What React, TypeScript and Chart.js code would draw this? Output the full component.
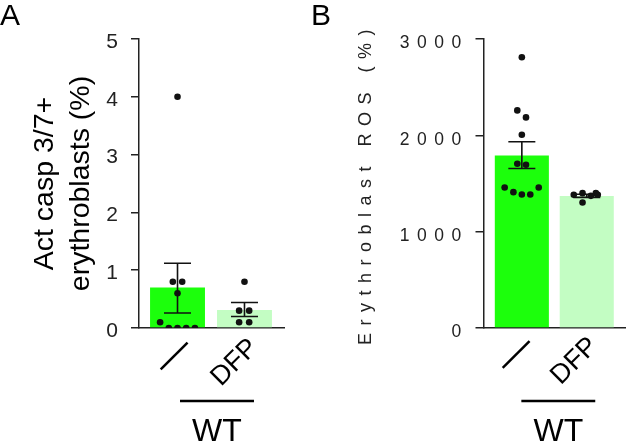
import React, { useEffect, useRef } from 'react';
import { Chart, registerables } from 'chart.js';

Chart.register(...registerables);

const FONT = '"Liberation Sans", Arial, Helvetica, sans-serif';
const AXIS = '#222';

// ---- shared categories ----
const categories = ['—', 'DFP'];
const groupLabel = 'WT';

// ---- Panel A: Act casp 3/7+ erythroblasts (%) ----
const casTitle = ['Act casp 3/7+', 'erythroblasts (%)'];
const casTicks = [0, 1, 2, 3, 4, 5];
const casMeans = [0.7, 0.31];
const casErrHigh = [1.12, 0.44];
const casErrLow = [0.26, 0.2];
const casCtrlValues = [4.0, 0.8, 0.8, 0.6, 0.1, 0, 0, 0, 0];
const casCtrlJitter = [0, -0.07, 0.07, 0, -0.26, -0.13, 0, 0.13, 0.26];
const casDfpValues = [0.8, 0.3, 0.3, 0.1, 0.1];
const casDfpJitter = [0, -0.08, 0.07, -0.08, 0.07];

// ---- Panel B: Erythroblast ROS (%) ----
const rosTitle = 'Erythroblast ROS (%)';
const rosTicks = [0, 1000, 2000, 3000];
const rosMeans = [1791, 1370];
const rosErrHigh = [1934, 1388];
const rosErrLow = [1656, 1356];
const rosCtrlValues = [2810, 2259, 2186, 2006, 1705, 1694, 1459, 1410, 1386, 1386, 1459];
const rosCtrlJitter = [0, -0.07, 0.064, 0, -0.07, 0.064, -0.265, -0.13, 0, 0.13, 0.26];
const rosDfpValues = [1383, 1400, 1303, 1372, 1400, 1383];
const rosDfpJitter = [-0.2, -0.065, -0.065, 0.064, 0.14, 0.17];

const barColors = ['#1cff0c', '#c3fdc3'];

function buildPoints(values: number[][], jitter: number[][]) {
  const pts: { x: number; y: number }[] = [];
  values.forEach((vals, i) =>
    vals.forEach((v, j) => pts.push({ x: i + jitter[i][j], y: v }))
  );
  return pts;
}

const errorBarPlugin = {
  id: 'errorBars',
  afterDatasetDraw(chart: any, args: any, o: any) {
    if (args.index !== 0) return;
    const { ctx, scales } = chart;
    const x = scales.x, y = scales.y;
    ctx.save();
    ctx.strokeStyle = '#111';
    ctx.lineWidth = 1.6;
    o.high.forEach((hi: number, i: number) => {
      const px = x.getPixelForValue(i);
      const top = y.getPixelForValue(hi);
      const bot = y.getPixelForValue(o.low[i]);
      ctx.beginPath();
      ctx.moveTo(px, top); ctx.lineTo(px, bot);
      ctx.moveTo(px - o.cap / 2, top); ctx.lineTo(px + o.cap / 2, top);
      ctx.moveTo(px - o.cap / 2, bot); ctx.lineTo(px + o.cap / 2, bot);
      ctx.stroke();
    });
    ctx.restore();
  },
};

const groupLabelPlugin = {
  id: 'groupLabel',
  afterDraw(chart: any, _a: any, o: any) {
    const { ctx, scales } = chart;
    const x = scales.x;
    const x0 = x.getPixelForValue(0) + o.startShift;
    const x1 = x.getPixelForValue(categories.length - 1) + o.endShift;
    ctx.save();
    ctx.strokeStyle = '#000';
    ctx.lineWidth = 2.5;
    ctx.beginPath();
    ctx.moveTo(x0, o.lineY);
    ctx.lineTo(x1, o.lineY);
    ctx.stroke();
    ctx.font = `32px ${FONT}`;
    ctx.fillStyle = '#000';
    ctx.textAlign = 'center';
    ctx.textBaseline = 'alphabetic';
    ctx.fillText(o.text, (x0 + x1) / 2, o.textY);
    ctx.restore();
  },
};

const panelLetterPlugin = {
  id: 'panelLetter',
  afterDraw(chart: any, _a: any, o: any) {
    const { ctx } = chart;
    ctx.save();
    ctx.font = `30px ${FONT}`;
    ctx.fillStyle = '#000';
    ctx.textAlign = 'left';
    ctx.textBaseline = 'alphabetic';
    ctx.fillText(o.letter, o.x, 25);
    ctx.restore();
  },
};

const spacingPlugin = {
  id: 'axisLetterSpacing',
  beforeDraw(chart: any, _a: any, o: any) {
    chart.ctx.letterSpacing = `${o.spacing}px`;
  },
  afterDatasetsDraw(chart: any) {
    chart.ctx.letterSpacing = '0px';
  },
};

function makeConfig(p: any) {
  return {
    type: 'bar',
    data: {
      datasets: [
        {
          type: 'bar',
          data: p.means.map((m: number, i: number) => ({ x: i, y: m })),
          backgroundColor: barColors,
          borderWidth: 0,
          barPercentage: p.barPct,
          categoryPercentage: 1,
          order: 2,
        },
        {
          type: 'scatter',
          data: buildPoints(p.values, p.jitter),
          pointRadius: 3.3,
          pointHoverRadius: 3.3,
          pointBackgroundColor: '#111',
          pointBorderWidth: 0,
          order: 1,
        },
      ],
    },
    options: {
      responsive: false,
      animation: false,
      events: [],
      layout: { padding: { left: 0, top: 39, right: p.padRight, bottom: 0 } },
      plugins: {
        legend: { display: false },
        tooltip: { enabled: false },
        errorBars: { high: p.errHigh, low: p.errLow, cap: 27 },
        groupLabel: { text: groupLabel, startShift: p.groupStart, endShift: p.groupEnd, lineY: 401, textY: 441 },
        panelLetter: { letter: p.letter, x: p.letterX },
        axisLetterSpacing: { spacing: p.letterSpacing || 0 },
      },
      scales: {
        x: {
          type: 'linear',
          min: p.xMin,
          max: p.xMax,
          offset: false,
          grid: { display: false, drawTicks: false },
          border: { display: true, color: AXIS, width: 1.5 },
          afterBuildTicks: (s: any) => {
            s.ticks = categories.map((_, i) => ({ value: i }));
          },
          afterFit: (s: any) => {
            s.height = 114;
          },
          ticks: {
            autoSkip: false,
            minRotation: 45,
            maxRotation: 45,
            padding: p.xPad,
            labelOffset: p.xLabelOffset,
            z: 1,
            color: '#000',
            font: (ctx: any) =>
              ctx.index === 0
                ? { family: FONT, size: 38, lineHeight: 0.75 }
                : { family: FONT, size: 27, lineHeight: 1.2 },
            callback: (v: number) => categories[v] ?? '',
          },
        },
        y: {
          min: p.yTicks[0],
          max: p.yTicks[p.yTicks.length - 1],
          afterBuildTicks: (s: any) => {
            s.ticks = p.yTicks.map((v: number) => ({ value: v }));
          },
          afterFit: (s: any) => {
            s.width = p.yWidth;
          },
          grid: { drawOnChartArea: false, drawTicks: true, tickLength: p.tickLen, color: AXIS, lineWidth: 1.5 },
          border: { color: AXIS, width: 1.5 },
          ticks: {
            padding: p.yPad,
            labelOffset: p.yLabelOffset,
            color: '#222',
            font: { family: FONT, size: p.yTickSize },
            callback: (v: number) => String(v),
          },
          title: {
            display: true,
            text: p.title,
            color: p.titleColor,
            font: { family: FONT, size: p.titleSize, lineHeight: p.titleLH },
            padding: { top: p.titlePad, bottom: 0 },
          },
        },
      },
    },
    plugins: [errorBarPlugin, groupLabelPlugin, panelLetterPlugin, ...(p.letterSpacing ? [spacingPlugin] : [])],
  };
}

const panelA = {
  canvasLeft: 0, canvasWidth: 310,
  means: casMeans, errHigh: casErrHigh, errLow: casErrLow,
  values: [casCtrlValues, casDfpValues], jitter: [casCtrlJitter, casDfpJitter],
  yTicks: casTicks,
  xMin: -0.575, xMax: 1.59, barPct: 0.82,
  padRight: 26, yWidth: 139, tickLen: 8, yPad: 13, yLabelOffset: 3, yTickSize: 21,
  title: casTitle, titleColor: '#000', titleSize: 28.5, titleLH: 36 / 28.5, titlePad: 27,
  xPad: 4, xLabelOffset: 9.5,
  groupStart: 2.5, groupEnd: 9.5,
  letter: 'A', letterX: 0,
  letterSpacing: 0,
};

const panelB = {
  canvasLeft: 310, canvasWidth: 319,
  means: rosMeans, errHigh: rosErrHigh, errLow: rosErrLow,
  values: [rosCtrlValues, rosDfpValues], jitter: [rosCtrlJitter, rosDfpJitter],
  yTicks: rosTicks,
  xMin: -0.583, xMax: 1.6, barPct: 0.833,
  padRight: 1, yWidth: 174, tickLen: 8.5, yPad: 6.8, yLabelOffset: 4.5, yTickSize: 17.5,
  title: rosTitle, titleColor: '#222', titleSize: 18, titleLH: 1.2, titlePad: 45.7,
  xPad: 2.5, xLabelOffset: 7,
  groupStart: -0.5, groupEnd: 8.5,
  letter: 'B', letterX: 1,
  letterSpacing: 7.5,
};

function Panel({ spec }: { spec: any }) {
  const ref = useRef<HTMLCanvasElement | null>(null);
  useEffect(() => {
    if (!ref.current) return;
    const chart = new Chart(ref.current, makeConfig(spec) as any);
    return () => chart.destroy();
  }, []);
  return (
    <canvas
      ref={ref}
      width={spec.canvasWidth}
      height={442}
      style={{ position: 'absolute', left: spec.canvasLeft, top: 0, width: spec.canvasWidth, height: 442 }}
    />
  );
}

export default function App() {
  return (
    <div
      style={{
        position: 'fixed',
        left: 0,
        top: 0,
        width: 629,
        height: 442,
        background: '#fff',
        overflow: 'hidden',
      }}
    >
      <Panel spec={panelA} />
      <Panel spec={panelB} />
    </div>
  );
}
